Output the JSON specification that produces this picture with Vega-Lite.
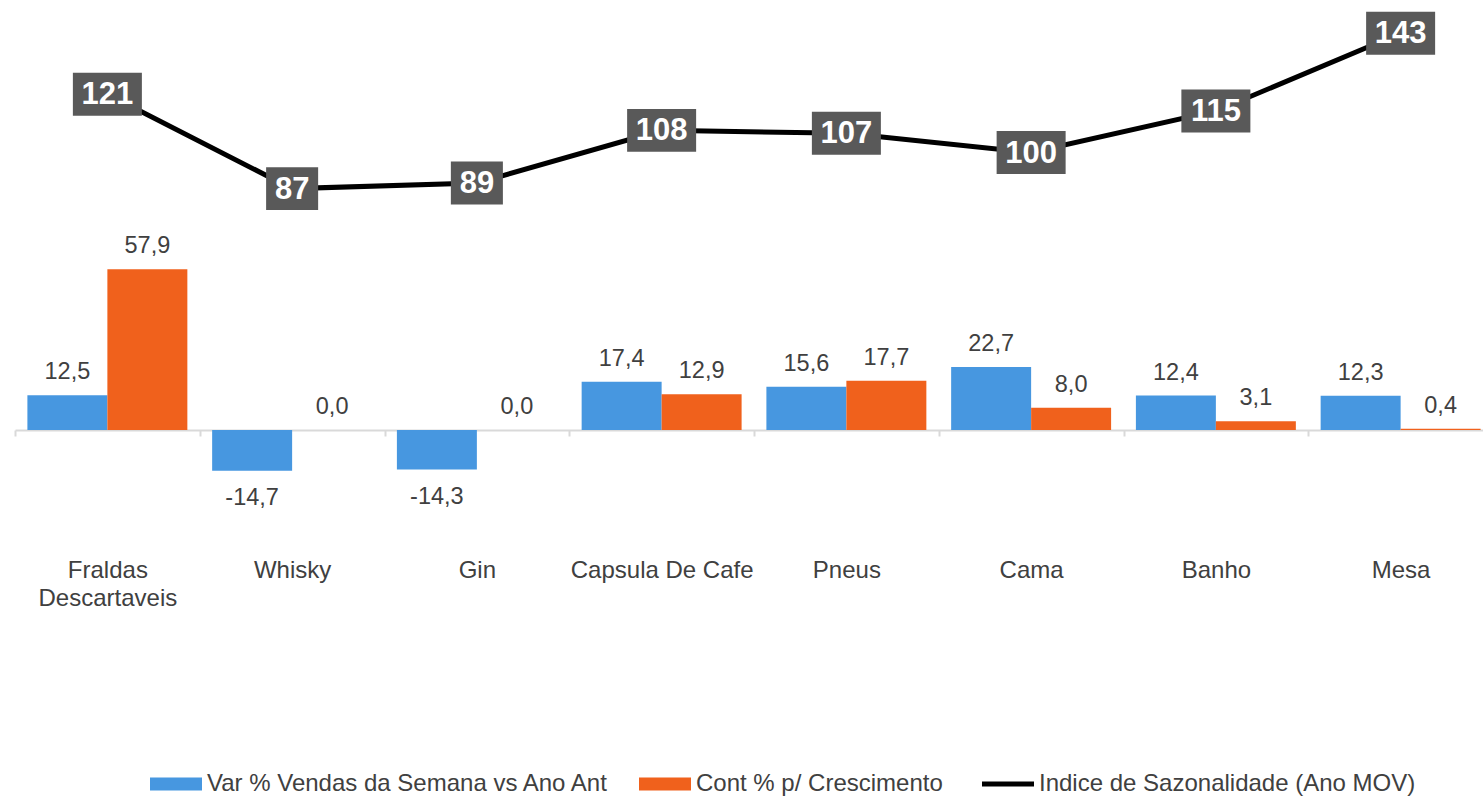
{
  "$schema": "https://vega.github.io/schema/vega-lite/v6.json",
  "width": 1478,
  "height": 552,
  "autosize": {"type": "none"},
  "padding": {"left": 15, "top": 0, "right": 0, "bottom": 244},
  "config": {
    "view": {"stroke": null},
    "font": "Liberation Sans",
    "locale": {"number": {"decimal": ",", "thousands": ".", "grouping": [3], "currency": ["", ""], "minus": "-"}}
  },
  "datasets": {
    "bars": [
      {"cat": "Fraldas Descartaveis", "series": "Var % Vendas da Semana vs Ano Ant", "v": 12.5},
      {"cat": "Fraldas Descartaveis", "series": "Cont % p/ Crescimento", "v": 57.9},
      {"cat": "Whisky", "series": "Var % Vendas da Semana vs Ano Ant", "v": -14.7},
      {"cat": "Whisky", "series": "Cont % p/ Crescimento", "v": 0.0},
      {"cat": "Gin", "series": "Var % Vendas da Semana vs Ano Ant", "v": -14.3},
      {"cat": "Gin", "series": "Cont % p/ Crescimento", "v": 0.0},
      {"cat": "Capsula De Cafe", "series": "Var % Vendas da Semana vs Ano Ant", "v": 17.4},
      {"cat": "Capsula De Cafe", "series": "Cont % p/ Crescimento", "v": 12.9},
      {"cat": "Pneus", "series": "Var % Vendas da Semana vs Ano Ant", "v": 15.6},
      {"cat": "Pneus", "series": "Cont % p/ Crescimento", "v": 17.7},
      {"cat": "Cama", "series": "Var % Vendas da Semana vs Ano Ant", "v": 22.7},
      {"cat": "Cama", "series": "Cont % p/ Crescimento", "v": 8.0},
      {"cat": "Banho", "series": "Var % Vendas da Semana vs Ano Ant", "v": 12.4},
      {"cat": "Banho", "series": "Cont % p/ Crescimento", "v": 3.1},
      {"cat": "Mesa", "series": "Var % Vendas da Semana vs Ano Ant", "v": 12.3},
      {"cat": "Mesa", "series": "Cont % p/ Crescimento", "v": 0.4}
    ],
    "idx": [
      {"cat": "Fraldas Descartaveis", "idx": 121},
      {"cat": "Whisky", "idx": 87},
      {"cat": "Gin", "idx": 89},
      {"cat": "Capsula De Cafe", "idx": 108},
      {"cat": "Pneus", "idx": 107},
      {"cat": "Cama", "idx": 100},
      {"cat": "Banho", "idx": 115},
      {"cat": "Mesa", "idx": 143}
    ]
  },
  "encoding": {
    "x": {
      "field": "cat",
      "type": "nominal",
      "sort": null,
      "scale": {"paddingInner": 0, "paddingOuter": 0, "domain": ["Fraldas Descartaveis", "Whisky", "Gin", "Capsula De Cafe", "Pneus", "Cama", "Banho", "Mesa"]},
      "axis": {
        "title": null,
        "labelAngle": 0,
        "labelFontSize": 24,
        "labelColor": "#404040",
        "labelFont": "Liberation Sans",
        "labelLineHeight": 28,
        "labelBaseline": "top",
        "labelPadding": 122,
        "labelLimit": 400,
        "labelExpr": "datum.value == 'Fraldas Descartaveis' ? ['Fraldas', 'Descartaveis'] : datum.value",
        "offset": -122,
        "domainColor": "#d9d9d9",
        "domainWidth": 2,
        "tickColor": "#d9d9d9",
        "tickWidth": 2,
        "tickSize": 6,
        "tickBand": "extent",
        "grid": false
      }
    }
  },
  "layer": [
    {
      "data": {"name": "bars"},
      "mark": {"type": "bar"},
      "encoding": {
        "xOffset": {"field": "series", "type": "nominal", "sort": ["Var % Vendas da Semana vs Ano Ant", "Cont % p/ Crescimento"], "scale": {"paddingOuter": 0.155, "paddingInner": 0}},
        "y": {"field": "v", "type": "quantitative", "scale": {"domain": [-44, 155], "nice": false, "zero": false}, "axis": null},
        "color": {
          "field": "series",
          "type": "nominal",
          "scale": {
            "domain": ["Var % Vendas da Semana vs Ano Ant", "Cont % p/ Crescimento", "Indice de Sazonalidade (Ano MOV)"],
            "range": ["#4797E0", "#F0611C", "#000000"]
          },
          "legend": {
            "title": null,
            "orient": "none",
            "direction": "horizontal",
            "legendX": 149,
            "legendY": 772,
            "labelFontSize": 24,
            "labelColor": "#404040",
            "labelFont": "Liberation Sans",
            "labelLimit": 600,
            "labelOffset": 19,
            "columnPadding": 29,
            "symbolSize": 2704,
            "symbolOpacity": 1,
            "encode": {
              "symbols": {
                "update": {
                  "shape": {"signal": "datum.value === 'Indice de Sazonalidade (Ano MOV)' ? 'stroke' : 'M-1,-0.25L1,-0.25L1,0.25L-1,0.25Z'"},
                  "stroke": {"value": "#000000"},
                  "strokeWidth": {"signal": "datum.value === 'Indice de Sazonalidade (Ano MOV)' ? 5 : 0"}
                }
              }
            }
          }
        }
      }
    },
    {
      "data": {"name": "bars"},
      "transform": [{"filter": "datum.v >= 0"}],
      "mark": {"type": "text", "fontSize": 23.5, "color": "#404040", "baseline": "alphabetic", "align": "center", "dy": -16},
      "encoding": {
        "xOffset": {"field": "series", "type": "nominal", "sort": ["Var % Vendas da Semana vs Ano Ant", "Cont % p/ Crescimento"], "scale": {"paddingOuter": 0.155, "paddingInner": 0}},
        "y": {"field": "v", "type": "quantitative"},
        "text": {"field": "v", "type": "quantitative", "format": ".1f"}
      }
    },
    {
      "data": {"name": "bars"},
      "transform": [{"filter": "datum.v < 0"}],
      "mark": {"type": "text", "fontSize": 23.5, "color": "#404040", "baseline": "alphabetic", "align": "center", "dy": 34},
      "encoding": {
        "xOffset": {"field": "series", "type": "nominal", "sort": ["Var % Vendas da Semana vs Ano Ant", "Cont % p/ Crescimento"], "scale": {"paddingOuter": 0.155, "paddingInner": 0}},
        "y": {"field": "v", "type": "quantitative"},
        "text": {"field": "v", "type": "quantitative", "format": ".1f"}
      }
    },
    {
      "data": {"name": "idx"},
      "mark": {"type": "line", "strokeWidth": 5, "color": "#000000"},
      "encoding": {
        "y": {"field": "idx", "type": "quantitative"},
        "color": {"datum": "Indice de Sazonalidade (Ano MOV)"}
      }
    },
    {
      "data": {"name": "idx"},
      "mark": {"type": "point", "filled": true, "opacity": 1, "color": "#595959", "strokeWidth": 0, "size": 4761},
      "encoding": {
        "y": {"field": "idx", "type": "quantitative"},
        "shape": {"condition": {"test": "datum.idx < 100", "value": "M-0.754,-0.623L0.754,-0.623L0.754,0.623L-0.754,0.623Z"}, "value": "M-1,-0.623L1,-0.623L1,0.623L-1,0.623Z"}
      }
    },
    {
      "data": {"name": "idx"},
      "mark": {"type": "text", "fontSize": 31, "fontWeight": "bold", "color": "#ffffff", "baseline": "middle", "align": "center", "dy": 1},
      "encoding": {
        "y": {"field": "idx", "type": "quantitative"},
        "text": {"field": "idx", "type": "quantitative", "format": "d"}
      }
    }
  ]
}
